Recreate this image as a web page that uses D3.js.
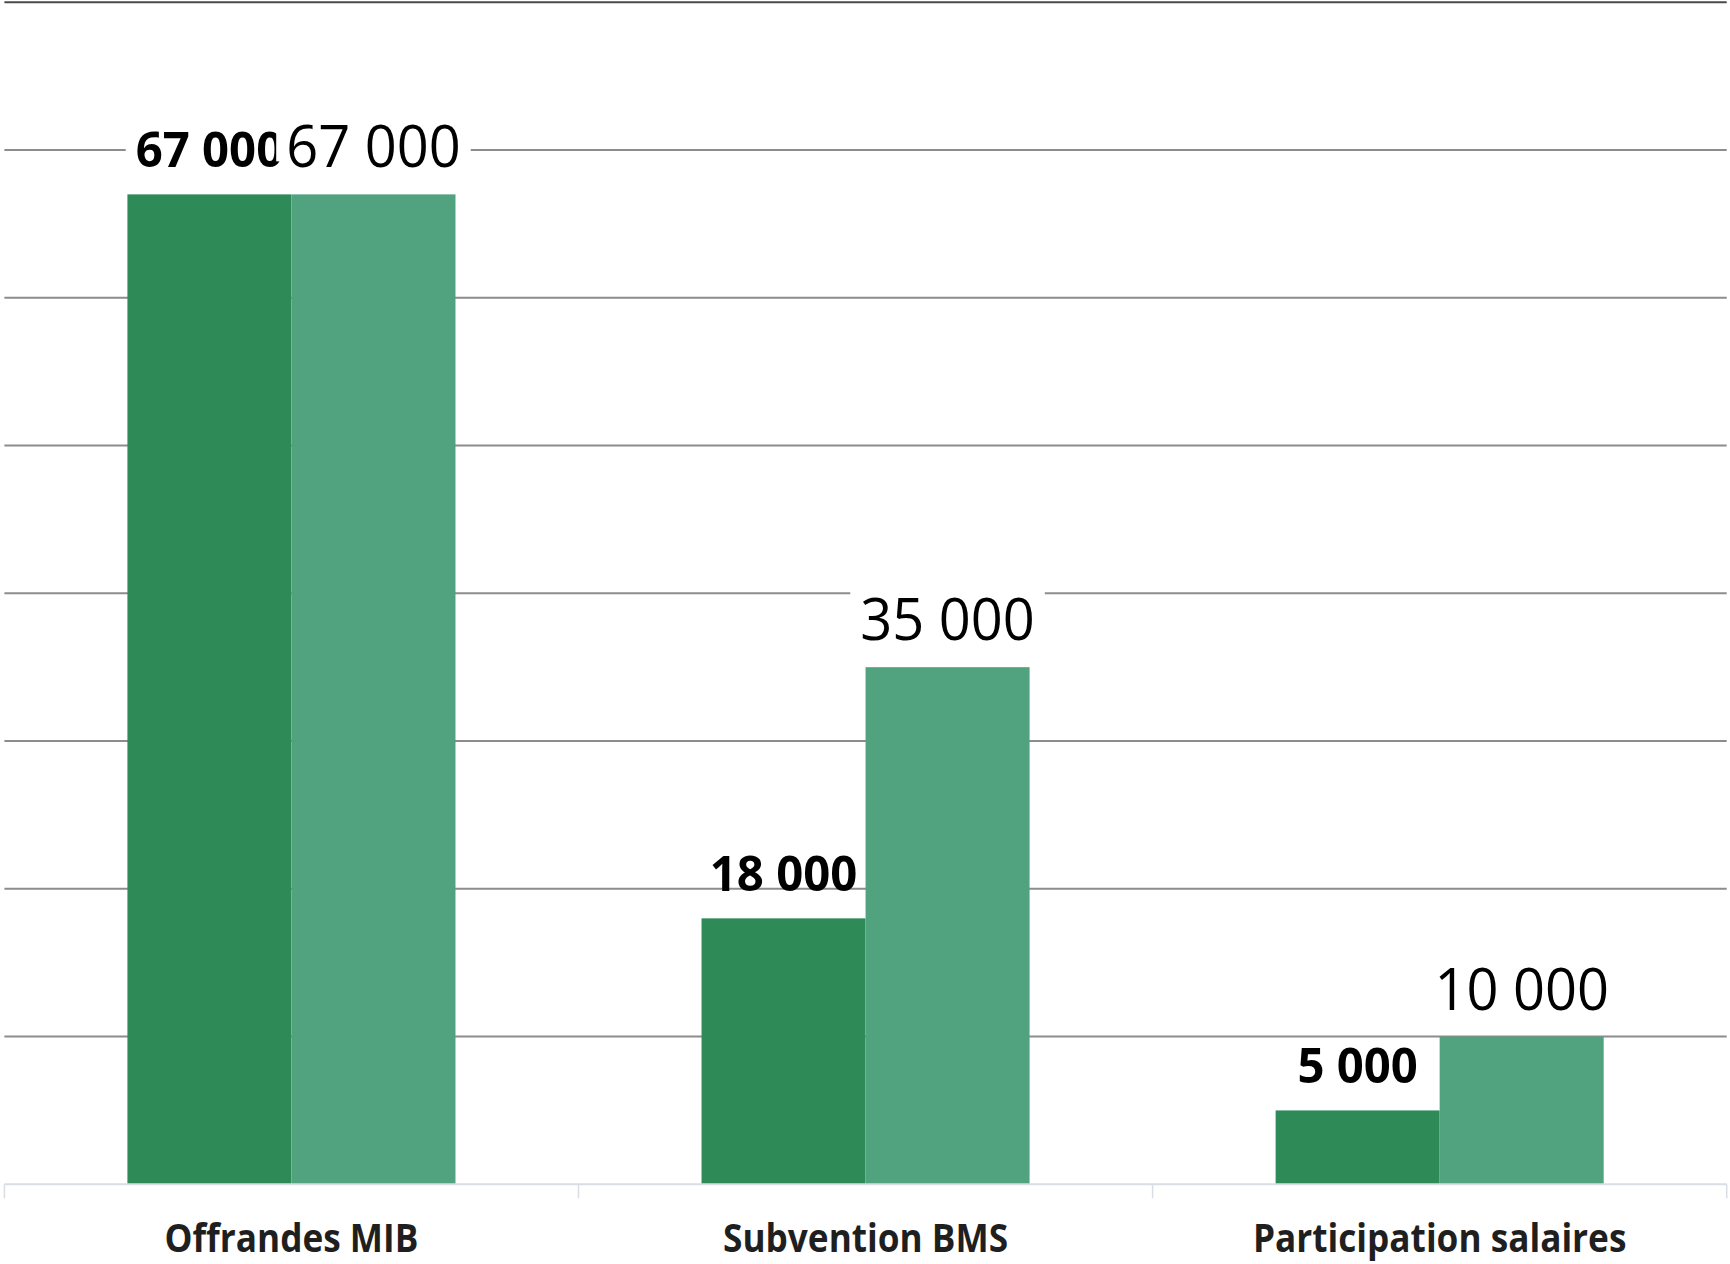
<!DOCTYPE html>
<html>
<head>
<meta charset="utf-8">
<script src="https://cdn.jsdelivr.net/npm/d3@7"></script>
<style>
  html, body { margin: 0; padding: 0; background: #ffffff; }
  svg { display: block; }
</style>
</head>
<body>
<svg id="chart" width="1730" height="1264"></svg>
<script>
// ---- data ----
const categories = ["Offrandes MIB", "Subvention BMS", "Participation salaires"];
const seriesNames = ["Série 1", "Série 2"];
const series1 = [67000, 18000, 5000];
const series2 = [67000, 35000, 10000];
const yTicks = [10000, 20000, 30000, 40000, 50000, 60000, 70000, 80000];
const yMax = 80000;

// ---- layout ----
const plotLeft = 4.4, plotRight = 1726.7, plotTop = 2.3, plotBottom = 1184.3;
const colors = ["#2e8b57", "#51a27f"];

const svg = d3.select("#chart");
const fr = d3.formatLocale({ decimal: ",", thousands: " ", grouping: [3], currency: ["", " €"] });
const fmt = fr.format(",d");

const x0 = d3.scaleBand().domain(categories).range([plotLeft, plotRight]).paddingInner(0).paddingOuter(0);
const x1 = d3.scaleBand().domain(seriesNames).range([0, x0.bandwidth()]).paddingInner(0).paddingOuter(0.75);
const y = d3.scaleLinear().domain([0, yMax]).range([plotBottom, plotTop]);

// gridlines
svg.append("g").selectAll("line").data(yTicks).join("line")
  .attr("x1", plotLeft).attr("x2", plotRight)
  .attr("y1", d => y(d)).attr("y2", d => y(d))
  .attr("stroke", d => d === yMax ? "#4a4a4a" : "#8c8c8c")
  .attr("stroke-width", 2);

const data = categories.map((c, i) => ({ cat: c, vals: [series1[i], series2[i]] }));

// data labels (boxes mask gridlines; bars drawn afterwards)
const labelStyles = [
  { weight: 700, size: 49, sx: 0.965, cap: 35 },
  { weight: 400, size: 58, sx: 0.965, cap: 41.5 }
];
const labelLayer = svg.append("g");
data.forEach(d => {
  d.vals.forEach((v, j) => {
    const st = labelStyles[j];
    const cx = x0(d.cat) + x1(seriesNames[j]) + x1.bandwidth() / 2;
    const by = y(v) - 27;
    const g = labelLayer.append("g");
    const box = g.append("rect").attr("fill", "#ffffff");
    const t = g.append("text")
      .attr("transform", `translate(${cx},${by}) scale(${st.sx},1)`)
      .attr("text-anchor", "middle")
      .attr("font-family", "'Open Sans', sans-serif")
      .attr("font-weight", st.weight)
      .attr("font-size", st.size)
      .attr("fill", "#000000")
      .text(fmt(v));
    const w = t.node().getComputedTextLength() * st.sx;
    box.attr("x", cx - w / 2 - 10).attr("width", w + 20)
      .attr("y", by - st.cap - 8).attr("height", st.cap + 2);
  });
});

// bars
const groups = svg.append("g").selectAll("g").data(data).join("g")
  .attr("transform", d => `translate(${x0(d.cat)},0)`);
groups.selectAll("rect").data(d => d.vals.map((v, j) => ({ v, s: seriesNames[j], j })))
  .join("rect")
  .attr("x", d => x1(d.s))
  .attr("width", x1.bandwidth())
  .attr("y", d => y(d.v))
  .attr("height", d => y(0) - y(d.v))
  .attr("fill", d => colors[d.j]);

// x axis baseline with ticks at band boundaries
const axisG = svg.append("g");
axisG.append("line").attr("x1", plotLeft).attr("x2", plotRight).attr("y1", plotBottom).attr("y2", plotBottom)
  .attr("stroke", "#d9dee5").attr("stroke-width", 2);
const boundaries = categories.map(c => x0(c)).concat([x0(categories[categories.length - 1]) + x0.bandwidth()]);
axisG.selectAll("line.tick").data(boundaries).join("line").attr("class", "tick")
  .attr("x1", d => d).attr("x2", d => d).attr("y1", plotBottom).attr("y2", plotBottom + 14)
  .attr("stroke", "#d9dee5").attr("stroke-width", 1.5);

// category labels
const catSX = 0.88;
svg.append("g").selectAll("text").data(categories).join("text")
  .attr("transform", d => `translate(${x0(d) + x0.bandwidth() / 2},1252) scale(${catSX},1)`)
  .attr("text-anchor", "middle")
  .attr("font-family", "'Open Sans', sans-serif")
  .attr("font-weight", 700)
  .attr("font-size", 40)
  .attr("fill", "#1f1f1f")
  .text(d => d);
</script>
</body>
</html>
